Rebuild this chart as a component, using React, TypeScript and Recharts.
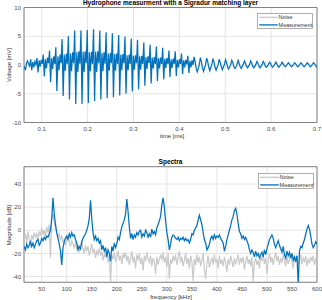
import React from 'react';
import { LineChart, Line, XAxis, YAxis, CartesianGrid, ReferenceArea } from 'recharts';

const FONT = '"Liberation Sans", Arial, Helvetica, sans-serif';
const BLUE = '#0072BD';
const GREY = '#c9c9c9';

// ---------- Time signal (uniformly sampled) ----------
const timeStart = 0.06; // ms
const timeStep = 0.002283; // ms
const timeTicks = [0.1, 0.2, 0.3, 0.4, 0.5, 0.6, 0.7];
const voltageTicks = [-10, -5, 0, 5, 10];

const measurementVoltage = [
  0.0, -0.4, -0.9, 0.3, 0.7, 0.2,
  -0.2, 1.0, -0.9, 0.5, -0.4, 0.6,
  0.1, 1.2, -1.3, 0.8, -0.3, 0.9,
  0.2, 1.8, -2.0, 1.0, -0.6, 1.3,
  0.3, 2.5, -3.0, 1.2, -0.7, 1.5,
  0.2, 3.1, -4.5, 1.5, -0.9, 1.8,
  0.3, 4.5, -5.4, 1.8, -1.0, 2.0,
  0.2, 5.0, -6.0, 2.0, -1.1, 2.2,
  0.3, 6.0, -6.8, 2.2, -1.2, 2.4,
  0.2, 6.0, -6.8, 2.3, -1.2, 2.4,
  0.3, 6.1, -6.6, 2.2, -1.1, 2.3,
  0.2, 6.2, -6.3, 2.3, -1.2, 2.4,
  0.3, 6.0, -6.0, 2.1, -1.1, 2.2,
  0.2, 5.7, -5.8, 2.0, -1.0, 2.1,
  0.3, 5.5, -5.6, 1.9, -1.0, 2.0,
  0.2, 5.2, -5.3, 1.8, -0.9, 1.9,
  0.3, 4.9, -5.0, 1.7, -0.9, 1.8,
  0.2, 4.6, -4.6, 1.6, -0.8, 1.7,
  0.3, 4.4, -4.2, 1.5, -0.8, 1.6,
  0.2, 3.9, -3.6, 1.4, -0.7, 1.5,
  0.3, 3.5, -3.2, 1.3, -0.6, 1.4,
  0.2, 3.2, -2.8, 1.2, -0.6, 1.3,
  0.2, 3.0, -2.5, 1.1, -0.5, 1.2,
  0.2, 2.5, -2.1, 1.0, -0.5, 1.1,
  0.2, 2.4, -1.9, 0.9, -0.4, 1.0,
  0.2, 2.0, -1.6, 0.8, -0.4, 0.9,
  0.1, 1.6, -1.4, 0.7, -0.4, 0.8,
  0.0, 1.4, 0.6, -0.6, -1.2, -0.6,
  0.1, 1.3, 0.5, -0.5, -1.1, -0.5,
  0.1, 1.2, 0.6, -0.4, -1.0, -0.4,
  0.1, 1.1, 0.5, -0.4, -0.9, -0.4,
  0.1, 1.0, 0.4, -0.3, -0.8, -0.3,
  0.1, 0.9, 0.4, -0.3, -0.7, -0.3,
  0.1, 0.8, 0.4, -0.3, -0.6, -0.3,
  0.1, 0.8, 0.3, -0.3, -0.6, -0.2,
  0.1, 0.7, 0.3, -0.2, -0.5, -0.2,
  0.1, 0.7, 0.3, -0.2, -0.5, -0.2,
  0.1, 0.6, 0.3, -0.2, -0.5, -0.2,
  0.1, 0.6, 0.3, -0.2, -0.4, -0.2,
  0.1, 0.5, 0.3, -0.2, -0.4, -0.1,
  0.1, 0.5, 0.2, -0.2, -0.4, -0.1,
  0.1, 0.5, 0.2, -0.1, -0.3, -0.1,
  0.1, 0.4, 0.2, -0.1, -0.3, -0.1,
  0.1, 0.4, 0.2, -0.1, -0.3, -0.1,
  0.1, 0.4, 0.2, -0.1, -0.3, -0.1,
  0.1, 0.4, 0.2, -0.1, -0.3, -0.1,
  0.1, 0.4, 0.2, -0.1, -0.3, -0.1,
];

// ---------- Spectra (uniform frequency grid) ----------
const freqStart = 15; // kHz
const freqStep = 2.5; // kHz
const freqTicks = [50, 100, 150, 200, 250, 300, 350, 400, 450, 500, 550, 600];
const dbTicks = [-40, -20, 0, 20, 40];

const measurementDb = [
  -14, -17, -12, -15, -13, -10, -14, -11, -15, -12,
  -9, -8, -13, -11, -7, -9, -6, -8, -5, -6,
  -3, 0, 10, 28, 14, 5, -2, -7, -12, -18,
  -30, -15, -10, -7, -5, -8, -3, -6, -2, -5,
  -4, -8, -11, -17, -14, -16, -10, -7, -5, -3,
  0, 4, 10, 26, 10, -2, -8, -5, -9, -7,
  -11, -9, -17, -13, -18, -15, -23, -17, -20, -27,
  -14, -18, -11, -15, -12, -6, -8, -2, 3, 6,
  9, 14, 27, 16, 3, -7, -3, -8, -4, -6,
  -2, -4, -1, 0, -6, -3, -5, 0, -2, -6,
  -3, -6, 1, -3, -1, -4, 2, 5, 8, 12,
  22, 28, 20, 8, -2, -8, -17, -12, -6, -4,
  -5, -7, -8, -6, -9, -7, -8, -6, -9, -7,
  -9, -8, -11, -8, -3, -4, 0, 2, 4, 9,
  13, 9, 5, -2, -8, -11, -17, -15, -12, -7,
  -5, -8, -4, -7, -5, -6, -4, -7, -9, -11,
  -18, -14, -8, -4, 0, 4, 9, 12, 17, 19,
  14, 6, -1, -3, -7, -5, -8, -6, -9, -12,
  -17, -20, -17, -19, -23, -18, -22, -20, -24, -21,
  -19, -23, -17, -21, -16, -12, -8, -6, -4, -7,
  -12, -15, -12, -9, -13, -16, -19, -14, -21, -24,
  -18, -22, -19, -24, -20, -26, -23, -27, -22, -47,
  -18, -14, -15, -11, -8, -3, 1, 4, 1, -5,
  -12, -15, -13, -10, -12,
];

const noiseDb = [
  -9, -3, -12, -1, -7, -15, -4, -8, -2, -6,
  -3, -8, -1, -5, 2, -4, 0, -6, 3, -2,
  5, -24, 9, 14, 7, 2, -2, -6, -3, -8,
  -5, -11, -7, -13, -8, -4, -10, -14, -9, -12,
  -15, -10, -17, -12, -19, -14, -9, -16, -20, -13,
  -18, -14, -22, -17, -12, -20, -16, -24, -18, -21,
  -15, -22, -18, -26, -20, -24, -17, -28, -22, -46,
  -21, -25, -19, -27, -23, -18, -26, -22, -29, -20,
  -24, -19, -27, -22, -30, -25, -18, -28, -23, -33,
  -21, -26, -20, -29, -24, -35, -22, -27, -19, -25,
  -28, -22, -31, -24, -27, -38, -23, -30, -25, -21,
  -26, -19, -28, -23, -32, -20, -42, -25, -29, -22,
  -27, -21, -30, -24, -18, -28, -23, -31, -26, -20,
  -29, -24, -33, -22, -27, -44, -25, -30, -21, -28,
  -23, -31, -26, -20, -34, -42, -29, -22, -32, -27,
  -24, -30, -21, -28, -25, -33, -22, -29, -26, -31,
  -23, -28, -36, -25, -30, -22, -27, -32, -24, -29,
  -26, -21, -30, -24, -28, -23, -34, -27, -22, -29,
  -25, -31, -23, -44, -28, -24, -30, -26, -33, -22,
  -27, -21, -29, -24, -38, -26, -20, -28, -23, -30,
  -25, -19, -27, -22, -30, -24, -28, -21, -26, -31,
  -23, -29, -25, -20, -27, -33, -24, -28, -22, -30,
  -26, -21, -29, -24, -27, -22, -31, -25, -28, -23,
  -27, -22, -30, -25, -28,
];

const legendLabels = ['Noise', 'Measurement'];
const legendColors = [GREY, BLUE];

const voltageData = measurementVoltage.map((v, i) => ({ t: timeStart + i * timeStep, v }));
const spectrumData = measurementDb.map((m, i) => ({ f: freqStart + i * freqStep, m, n: noiseDb[i] }));

const tickStyle = { fontSize: 6, fill: '#4a4a4a', fontFamily: FONT };

function Txt({ x, y, children, bold, rotate, size = 6 }: any) {
  return (
    <div
      style={{
        position: 'absolute',
        left: x,
        top: y,
        transform: `translate(-50%, -50%)${rotate ? ' rotate(-90deg)' : ''}`,
        whiteSpace: 'nowrap',
        fontSize: size,
        lineHeight: 1,
        fontWeight: bold ? 'bold' : 'normal',
        color: bold ? '#000' : '#333',
        fontFamily: FONT,
      }}
    >
      {children}
    </div>
  );
}

function LegendBox({ left, top }: { left: number; top: number }) {
  return (
    <svg style={{ position: 'absolute', left, top }} width={56} height={16}>
      <rect x={0.5} y={0.5} width={55} height={15} fill="#fff" stroke="#9a9a9a" strokeWidth={0.8} />
      {legendLabels.map((label, i) => {
        const y = 4.3 + i * 7.6;
        return (
          <g key={label}>
            <line x1={2.2} x2={20.8} y1={y} y2={y} stroke={legendColors[i]} strokeWidth={1.3} />
            <text x={21.6} y={y + 2} fontSize={5.5} fill="#333" fontFamily={FONT}>{label}</text>
          </g>
        );
      })}
    </svg>
  );
}

export default function App() {
  return (
    <div style={{ position: 'absolute', left: 0, top: 0, width: 322, height: 300, background: '#fff', overflow: 'hidden' }}>
      <div style={{ position: 'absolute', left: 0, top: 0 }}>
        <LineChart width={322} height={150} data={voltageData} margin={{ top: 7.5, right: 5, left: 0, bottom: 0 }}>
          <CartesianGrid stroke="#e4e4e4" strokeWidth={1} />
          <XAxis
            dataKey="t"
            type="number"
            domain={[0.0614, 0.7]}
            allowDataOverflow
            ticks={timeTicks}
            tickFormatter={(v: number) => v.toFixed(1)}
            height={27.5}
            tick={tickStyle}
            tickLine={false}
            axisLine={false}
            tickSize={0}
            tickMargin={4}
          />
          <YAxis
            type="number"
            domain={[-10, 10]}
            allowDataOverflow
            ticks={voltageTicks}
            width={24}
            tick={tickStyle}
            tickLine={false}
            axisLine={false}
            tickSize={0}
            tickMargin={3}
          />
          <ReferenceArea x1={0.0614} x2={0.7} y1={-10} y2={10} fill="none" stroke="#6a6a6a" strokeWidth={0.8} />
          <Line dataKey="v" stroke={BLUE} strokeWidth={1.25} dot={false} isAnimationActive={false} />
        </LineChart>
      </div>
      <div style={{ position: 'absolute', left: 0, top: 150 }}>
        <LineChart width={322} height={150} data={spectrumData} margin={{ top: 16.7, right: 5, left: 0, bottom: 0 }}>
          <CartesianGrid stroke="#e4e4e4" strokeWidth={1} />
          <XAxis
            dataKey="f"
            type="number"
            domain={[14.6, 600]}
            allowDataOverflow
            ticks={freqTicks}
            height={17.7}
            tick={tickStyle}
            tickLine={false}
            axisLine={false}
            tickSize={0}
            tickMargin={4}
          />
          <YAxis
            type="number"
            domain={[-45, 55]}
            allowDataOverflow
            ticks={dbTicks}
            width={24}
            tick={tickStyle}
            tickLine={false}
            axisLine={false}
            tickSize={0}
            tickMargin={3}
          />
          <ReferenceArea x1={14.6} x2={600} y1={-45} y2={55} fill="none" stroke="#6a6a6a" strokeWidth={0.8} />
          <Line dataKey="n" stroke={GREY} strokeWidth={1.2} dot={false} isAnimationActive={false} />
          <Line dataKey="m" stroke={BLUE} strokeWidth={1.25} dot={false} isAnimationActive={false} />
        </LineChart>
      </div>
      <Txt x={170.5} y={3} bold size={6.5}>Hydrophone measurment with a Sigradur matching layer</Txt>
      <Txt x={170.5} y={162.3} bold size={6.5}>Spectra</Txt>
      <Txt x={172} y={136}>time [ms]</Txt>
      <Txt x={171} y={296.5}>frequency [kHz]</Txt>
      <Txt x={8.5} y={65} rotate>Voltage [mV]</Txt>
      <Txt x={8.5} y={224.5} rotate>Magnitude [dB]</Txt>
      <LegendBox left={257} top={12.5} />
      <LegendBox left={257.5} top={172.5} />
    </div>
  );
}
